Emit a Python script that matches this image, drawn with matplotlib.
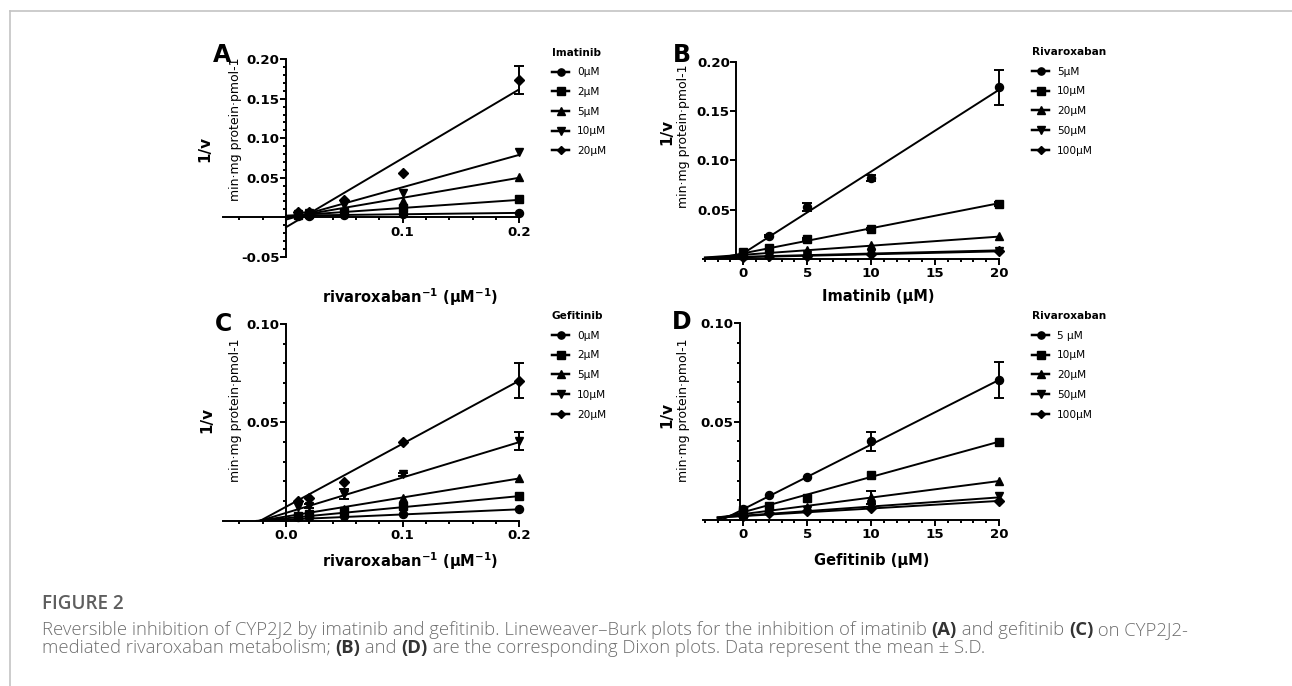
import numpy as np
import matplotlib
matplotlib.use("Agg")
import matplotlib.pyplot as plt
from matplotlib.lines import Line2D
from matplotlib.text import Annotation
from matplotlib.ticker import FixedLocator, MultipleLocator, FuncFormatter

plt.rcParams['font.family'] = 'DejaVu Sans'

# ---- data ----
inv_riva = [0.2, 0.1, 0.05, 0.02, 0.01]      # 1/[rivaroxaban], uM^-1
inhib_conc = [0, 2, 5, 10, 20]               # inhibitor, uM

markers = ['o', 's', '^', 'v', 'D']

# A: Lineweaver-Burk, imatinib
a_labels = ["0μM", "2μM", "5μM", "10μM", "20μM"]
a_mean = [
    [0.0059, 0.0035, 0.0022, 0.0018, 0.0015],
    [0.0228, 0.0114, 0.0062, 0.0040, 0.0032],
    [0.0515, 0.0200, 0.0092, 0.0050, 0.0042],
    [0.0830, 0.0310, 0.0150, 0.0055, 0.0045],
    [0.1740, 0.0555, 0.0220, 0.0070, 0.0065],
]
a_sd = [
    [0, 0, 0, 0, 0],
    [0, 0, 0, 0, 0],
    [0, 0, 0, 0, 0],
    [0, 0, 0, 0, 0],
    [0.0175, 0, 0, 0, 0],
]
a_icpt = [0.0020, 0.0015, -0.0008, -0.0030, -0.0127]
a_slope = [0.0175, 0.1025, 0.254, 0.41, 0.8735]

# B: Dixon, imatinib
b_labels = ["5μM", "10μM", "20μM", "50μM", "100μM"]
b_mean = [
    [0.0060, 0.0235, 0.0525, 0.0825, 0.1745],
    [0.0065, 0.0105, 0.0198, 0.0307, 0.0560],
    [0.0040, 0.0062, 0.0090, 0.0140, 0.0228],
    [0.0025, 0.0030, 0.0040, 0.0055, 0.0080],
    [0.0020, 0.0025, 0.0030, 0.0045, 0.0075],
]
b_sd = [
    [0, 0.001, 0.004, 0.003, 0.0175],
    [0, 0, 0.001, 0.001, 0.002],
    [0, 0, 0, 0, 0],
    [0, 0, 0, 0, 0],
    [0, 0, 0, 0, 0],
]
b_icpt = [0.0055, 0.0055, 0.0040, 0.0020, 0.0015]
b_slope = [0.008325, 0.00255, 0.000925, 0.000325, 0.0003]

# C: Lineweaver-Burk, gefitinib
c_labels = ["0μM", "2μM", "5μM", "10μM", "20μM"]
c_mean = [
    [0.0058, 0.0034, 0.0024, 0.0020, 0.0017],
    [0.0125, 0.0075, 0.0050, 0.0032, 0.0025],
    [0.0215, 0.0117, 0.0060, 0.0037, 0.0030],
    [0.0405, 0.0236, 0.0136, 0.0076, 0.0070],
    [0.0712, 0.0400, 0.0198, 0.0117, 0.0100],
]
c_sd = [
    [0, 0, 0, 0, 0],
    [0, 0, 0, 0, 0],
    [0, 0, 0, 0, 0],
    [0.0047, 0.0008, 0.0025, 0.001, 0],
    [0.009, 0, 0, 0, 0],
]
c_icpt = [0.00057, 0.00124, 0.00213, 0.00396, 0.00706]
c_slope = [0.0261, 0.0563, 0.0968, 0.180, 0.3207]

# D: Dixon, gefitinib
d_labels = ["5 μM", "10μM", "20μM", "50μM", "100μM"]
d_mean = [
    [0.0054, 0.0125, 0.0220, 0.0400, 0.0712],
    [0.0050, 0.0073, 0.0114, 0.0229, 0.0398],
    [0.0030, 0.0050, 0.0068, 0.0115, 0.0198],
    [0.0025, 0.0040, 0.0050, 0.0073, 0.0122],
    [0.0020, 0.0035, 0.0045, 0.0063, 0.0098],
]
d_sd = [
    [0, 0, 0, 0.0047, 0.009],
    [0, 0, 0, 0, 0],
    [0, 0, 0, 0.0033, 0],
    [0, 0, 0, 0, 0],
    [0, 0, 0, 0, 0],
]
d_icpt = [0.0055, 0.0040, 0.0030, 0.0022, 0.0020]
d_slope = [0.003285, 0.00179, 0.00084, 0.000465, 0.000385]

W, H = 1292, 686
fig = plt.figure(figsize=(W / 100, H / 100), dpi=100)
fig.patch.set_facecolor('white')

LW = 1.4
TICK_FS = 9.6


def px_axes(x0, x1, ytop, ybot):
    return fig.add_axes([x0 / W, 1 - ybot / H, (x1 - x0) / W, (ybot - ytop) / H])


def draw_panel(ax, x, mean, sd, icpt, slope, line_x):
    x = np.asarray(x, dtype=float)
    lx = np.linspace(line_x[0], line_x[1], 50)
    for i in range(len(mean)):
        m = markers[i]
        ms = 4.8 if m == 'D' else 5.8
        ax.plot(lx, icpt[i] + slope[i] * lx, color='black', lw=LW, zorder=3)
        ax.plot(x, mean[i], linestyle='none', marker=m, ms=ms, color='black',
                clip_on=False, zorder=4)
        s = np.asarray(sd[i])
        k = s > 0
        if k.any():
            ax.errorbar(x[k], np.asarray(mean[i])[k], yerr=s[k], fmt='none',
                        ecolor='black', elinewidth=LW, capsize=3.5, capthick=LW,
                        clip_on=False, zorder=4)


def style_axes(ax, yspine_x=0):
    for side in ['top', 'right']:
        ax.spines[side].set_visible(False)
    ax.spines['left'].set_position(('data', yspine_x))
    ax.spines['bottom'].set_position(('data', 0))
    for side in ['left', 'bottom']:
        ax.spines[side].set_linewidth(LW)
    ax.tick_params(which='major', direction='out', length=4, width=LW,
                   labelsize=TICK_FS, pad=2)
    ax.tick_params(axis='y', which='major', pad=0.6)
    ax.tick_params(which='minor', direction='out', length=2.5, width=LW)
    for lab in ax.get_xticklabels() + ax.get_yticklabels():
        lab.set_fontweight('bold')
    ax.set_facecolor('none')


def hide_zero(fmt):
    return FuncFormatter(lambda v, p: '' if abs(v) < 1e-9 else fmt % v)


def side_labels(ax, letter, letter_xy, ylab_xy, unit_xy, xlabel, xlab_xy):
    fig.text(letter_xy[0] / W, 1 - letter_xy[1] / H, letter, fontsize=17,
             fontweight='bold', ha='center', va='center')
    fig.text(ylab_xy[0] / W, 1 - ylab_xy[1] / H, '1/v', fontsize=11,
             fontweight='bold', rotation=90, ha='center', va='center')
    fig.text(unit_xy[0] / W, 1 - unit_xy[1] / H, 'min·mg protein·pmol-1',
             fontsize=9.0, rotation=90, ha='center', va='center')
    ax.set_xlabel(xlabel, fontsize=10.5, fontweight='bold', va='center')
    ax.xaxis.set_label_coords(xlab_xy[0] / W, 1 - xlab_xy[1] / H,
                              transform=fig.transFigure)


def add_legend(ax, title, labels, xy):
    handles = []
    for i, lab in enumerate(labels):
        m = markers[i]
        handles.append(Line2D([], [], color='black', lw=LW + 0.4, marker=m,
                              ms=4.2 if m == 'D' else 5.2))
    leg = ax.legend(handles, labels, title=title, loc='upper left',
                    bbox_to_anchor=(xy[0] / W, 1 - xy[1] / H),
                    bbox_transform=fig.transFigure, frameon=False,
                    fontsize=7.6, title_fontproperties={'weight': 'bold', 'size': 7.6},
                    alignment='left', handlelength=1.65, handletextpad=0.7,
                    labelspacing=0.92, borderpad=0, borderaxespad=0)
    return leg


xlab_lb = r'rivaroxaban$^{\mathbf{-1}}$ (μM$^{\mathbf{-1}}$)'

# ---- panel A ----
axA = px_axes(223, 519.3, 59.3, 256.7)
draw_panel(axA, inv_riva, a_mean, a_sd, a_icpt, a_slope, (0, 0.2))
axA.set_xlim(-0.054, 0.2)
axA.set_ylim(-0.05, 0.2)
axA.xaxis.set_major_locator(FixedLocator([0.1, 0.2]))
axA.xaxis.set_minor_locator(FixedLocator([-0.04, -0.02, 0.02, 0.04, 0.06, 0.08,
                                          0.12, 0.14, 0.16, 0.18]))
axA.xaxis.set_major_formatter(FuncFormatter(lambda v, p: '%.1f' % v))
axA.yaxis.set_major_locator(MultipleLocator(0.05))
axA.yaxis.set_minor_locator(MultipleLocator(0.01))
axA.yaxis.set_major_formatter(hide_zero('%.2f'))
style_axes(axA)
side_labels(axA, 'A', (222, 55), (205, 149), (235, 129), xlab_lb, (410, 297))
add_legend(axA, 'Imatinib', a_labels, (552, 47.5))

# ---- panel B ----
axB = px_axes(703, 999, 62.3, 258.7)
draw_panel(axB, inhib_conc, b_mean, b_sd, b_icpt, b_slope, (-3.0, 20))
axB.set_xlim(-3.15, 20)
axB.set_ylim(0, 0.2)
axB.xaxis.set_major_locator(MultipleLocator(5))
axB.xaxis.set_minor_locator(MultipleLocator(1))
axB.yaxis.set_major_locator(MultipleLocator(0.05))
axB.yaxis.set_major_formatter(hide_zero('%.2f'))
style_axes(axB, yspine_x=-0.55)
side_labels(axB, 'B', (682, 55), (667, 132), (684, 136), 'Imatinib (μM)', (878, 296))
add_legend(axB, 'Rivaroxaban', b_labels, (1032, 47))

# ---- panel C ----
axC = px_axes(223, 519.3, 324, 520.7)
draw_panel(axC, inv_riva, c_mean, c_sd, c_icpt, c_slope, (-0.025, 0.2))
axC.set_xlim(-0.054, 0.2)
axC.set_ylim(0, 0.1)
axC.xaxis.set_major_locator(FixedLocator([0.0, 0.1, 0.2]))
axC.xaxis.set_minor_locator(FixedLocator([-0.04, -0.02, 0.02, 0.04, 0.06, 0.08,
                                          0.12, 0.14, 0.16, 0.18]))
axC.xaxis.set_major_formatter(FuncFormatter(lambda v, p: '%.1f' % v))
axC.yaxis.set_major_locator(MultipleLocator(0.05))
axC.yaxis.set_minor_locator(MultipleLocator(0.01))
axC.yaxis.set_major_formatter(hide_zero('%.2f'))
style_axes(axC)
side_labels(axC, 'C', (223, 324), (207, 420), (235, 410), xlab_lb, (410, 561))
add_legend(axC, 'Gefitinib', c_labels, (552, 311))

# ---- panel D ----
axD = px_axes(703, 999, 323.3, 520)
draw_panel(axD, inhib_conc, d_mean, d_sd, d_icpt, d_slope, (-2.0, 20))
axD.set_xlim(-3.15, 20)
axD.set_ylim(0, 0.1)
axD.xaxis.set_major_locator(MultipleLocator(5))
axD.xaxis.set_minor_locator(MultipleLocator(1))
axD.yaxis.set_major_locator(MultipleLocator(0.05))
axD.yaxis.set_minor_locator(MultipleLocator(0.01))
axD.yaxis.set_major_formatter(hide_zero('%.2f'))
style_axes(axD, yspine_x=-0.25)
side_labels(axD, 'D', (682, 322), (667, 415), (684, 410), 'Gefitinib (μM)', (872, 561))
add_legend(axD, 'Rivaroxaban', d_labels, (1032, 311))

# ---- card border ----
fig.add_artist(Line2D([9.5 / W, 9.5 / W], [0, 1 - 11 / H], color='#c4c4c4',
                      lw=1.2, transform=fig.transFigure))
fig.add_artist(Line2D([9.5 / W, 1], [1 - 11 / H, 1 - 11 / H], color='#c4c4c4',
                      lw=1.2, transform=fig.transFigure))

# ---- caption ----
CAP_FONT = 'Open Sans'
CAP_FS = 13.3
CAP_COL = '#6e6e6e'

fig.text(42 / W, 1 - 614 / H, 'FIGURE 2', fontsize=13.6, fontweight='semibold',
         family=CAP_FONT, color='#5e5e5e', ha='left', va='bottom')


def caption_line(y_px, parts):
    prev = None
    for txt, bold in parts:
        kw = dict(fontsize=CAP_FS, family=CAP_FONT,
                  fontweight='bold' if bold else 'light',
                  color='#333333' if bold else CAP_COL, va='bottom', ha='left')
        if prev is None:
            prev = fig.text(42 / W, 1 - y_px / H, txt, **kw)
        else:
            a = Annotation(txt, xy=(1, 0), xycoords=prev, xytext=(0, 0),
                           textcoords='offset points', **kw)
            fig.add_artist(a)
            prev = a


caption_line(639, [
    ('Reversible inhibition of CYP2J2 by imatinib and gefitinib. '
     'Lineweaver\u2013Burk plots for the inhibition of imatinib ', False),
    ('(A)', True), (' and gefitinib ', False), ('(C)', True),
    (' on CYP2J2-', False)])
caption_line(657, [
    ('mediated rivaroxaban metabolism; ', False), ('(B)', True), (' and ', False),
    ('(D)', True), (' are the corresponding Dixon plots. Data represent the mean ± S.D.',
                    False)])

fig.savefig('out.png', dpi=100, facecolor='white')
